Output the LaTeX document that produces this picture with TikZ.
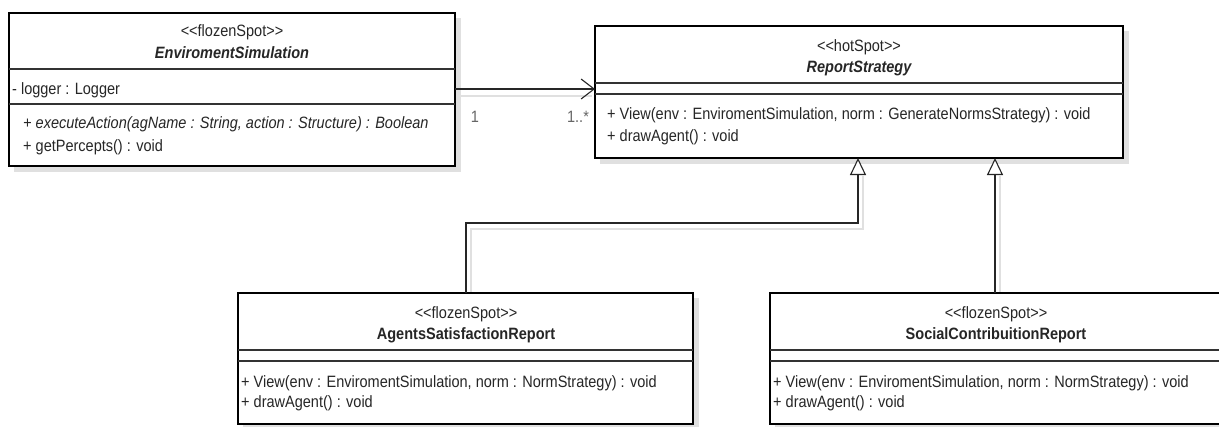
\documentclass[tikz,border=0pt]{standalone}
\usepackage{fontspec}
\setmainfont{Liberation Sans}[Ligatures=TeXOff]
\newfontfamily\umlfont{Liberation Sans}[Ligatures=TeXOff,FakeStretch=0.885]
\usetikzlibrary{arrows.meta}
\tikzset{
  box/.style={draw=black,line width=2.6pt,fill=white},
  shadowbox/.style={fill=black!12},
  sep/.style={draw=black!80,line width=1.1pt},
  txt/.style={inner sep=0pt,text height=11.5pt,text depth=3pt,font=\umlfont\fontsize{16.4}{18}\selectfont,text=black!85},
  mem/.style={txt,anchor=west},
  ttl/.style={txt,font=\umlfont\fontsize{16.4}{18}\selectfont\bfseries\itshape},
  ttlb/.style={txt,font=\umlfont\fontsize{16.4}{18}\selectfont\bfseries},
  mult/.style={txt,text=black!60},
  conn/.style={draw=black!85,line width=1.1pt},
  connsh/.style={draw=black!12,line width=1.1pt},
  gen/.style={conn,-{Triangle[open,length=17pt,width=16pt,fill=white]}},
  assoc/.style={conn,-{Straight Barb[length=13pt,width=20pt]}}
}
\begin{document}
\begin{tikzpicture}[x=1pt,y=-1pt]
\useasboundingbox (0,0) rectangle (1219,426);
\clip (0,0) rectangle (1219,426);
\fill[white] (0,0) rectangle (1219,426);

% connector shadows
\draw[connsh] (455,96) -- (592,96);
\draw[connsh] (471,293) -- (471,229) -- (863,229) -- (863,176);
\draw[connsh] (1000,293) -- (1000,176);

% shadows
\fill[shadowbox] (14,18) rectangle (461,172);
\fill[shadowbox] (600,31) rectangle (1129,164);
\fill[shadowbox] (243,298) rectangle (699,430);
\fill[shadowbox] (775,298) rectangle (1230,430);

% EnviromentSimulation
\draw[box] (9,13) rectangle (455,166);
\coordinate (envE) at (455,89);
\draw[sep] (9,69) -- (455,69);
\draw[sep] (9,104) -- (455,104);
\node[txt] (envst) at (232,32) {<<flozenSpot>>};
\node[ttl] (envnm) at (232,54) {EnviromentSimulation};
\node[mem] (envat) at (12,90) {- logger : Logger};
\node[mem,font=\umlfont\fontsize{16.4}{18}\selectfont\itshape] (envm1) at (23,124) {+ executeAction(agName : String, action : Structure) : Boolean};
\node[mem] (envm2) at (23,147) {+ getPercepts() : void};

% ReportStrategy
\draw[box] (595,26) rectangle (1123,158);
\coordinate (repW) at (595,89);
\coordinate (repS1) at (858,158);
\coordinate (repS2) at (995,158);
\draw[sep] (595,83) -- (1123,83);
\draw[sep] (595,94) -- (1123,94);
\node[txt] (repst) at (859,47) {<<hotSpot>>};
\node[ttl] (repnm) at (859,68) {ReportStrategy};
\node[mem] (repm1) at (607,115) {+ View(env : EnviromentSimulation, norm : GenerateNormsStrategy) : void};
\node[mem] (repm2) at (607,137) {+ drawAgent() : void};

% AgentsSatisfactionReport
\draw[box] (238,293) rectangle (693,424);
\coordinate (agN) at (466,293);
\draw[sep] (238,350) -- (693,350);
\draw[sep] (238,361) -- (693,361);
\node[txt] (agst) at (466,314) {<<flozenSpot>>};
\node[ttlb] (agnm) at (466,335) {AgentsSatisfactionReport};
\node[mem] (agm1) at (241,383) {+ View(env : EnviromentSimulation, norm : NormStrategy) : void};
\node[mem] (agm2) at (241,403) {+ drawAgent() : void};

% SocialContribuitionReport
\draw[box] (770,293) rectangle (1230,424);
\coordinate (soN) at (995,293);
\draw[sep] (770,350) -- (1230,350);
\draw[sep] (770,361) -- (1230,361);
\node[txt] (sost) at (996,314) {<<flozenSpot>>};
\node[ttlb] (sonm) at (996,335) {SocialContribuitionReport};
\node[mem] (som1) at (773,383) {+ View(env : EnviromentSimulation, norm : NormStrategy) : void};
\node[mem] (som2) at (773,403) {+ drawAgent() : void};

% connectors
\draw[assoc] (envE) -- (repW);
\node[mult] (m1) at (475,118) {1};
\node[mult] (m2) at (578,118) {1..*};
\draw[gen] (agN) -- (466,223) -- (858,223) -- (repS1);
\draw[gen] (soN) -- (repS2);
\end{tikzpicture}
\end{document}
